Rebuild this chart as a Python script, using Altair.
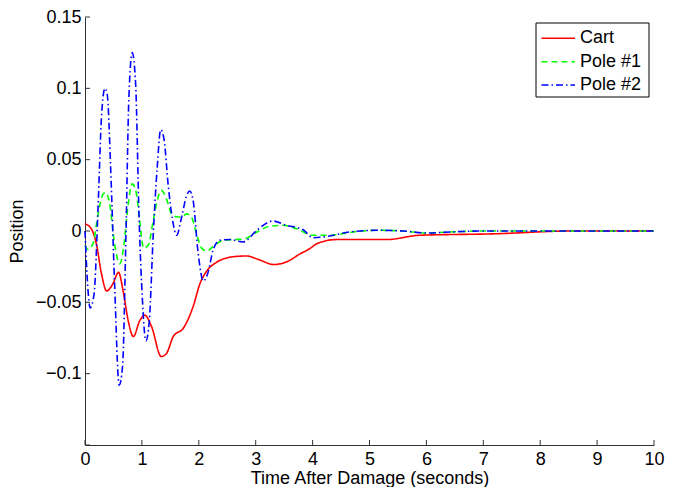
import altair as alt
import pandas as pd

series = ["Cart", "Pole #1", "Pole #2"]
colors = ["#ff0000", "#00ff00", "#0000ff"]

cart_t = [0, 0.11, 0.2, 0.29, 0.38, 0.49, 0.59, 0.67, 0.76, 0.85, 0.96, 1.05, 1.17,
          1.34, 1.43, 1.55, 1.73, 1.90, 2.02, 2.14, 2.31, 2.61, 2.84, 3.05, 3.32, 3.55,
          3.78, 3.95, 4.07, 4.42, 5.30, 5.88, 7.17, 8.57, 10]
cart_v = [0.005, 0.0016, -0.009, -0.030, -0.042, -0.037, -0.029, -0.042, -0.063, -0.074,
          -0.063, -0.059, -0.067, -0.088, -0.086, -0.074, -0.068, -0.053, -0.037, -0.028,
          -0.022, -0.018, -0.0175, -0.020, -0.0235, -0.0215, -0.016, -0.0124, -0.009, -0.006,
          -0.006, -0.003, -0.002, 0, 0]

pole1_t = [0, 0.05, 0.14, 0.23, 0.32, 0.36, 0.43, 0.52, 0.61, 0.68, 0.76, 0.83, 0.90,
           0.96, 1.03, 1.11, 1.20, 1.27, 1.34, 1.43, 1.52, 1.61, 1.70, 1.78, 1.87, 1.96,
           2.05, 2.14, 2.25, 2.40, 2.61, 2.78, 3.02, 3.25, 3.49, 3.72, 4.01, 4.30, 4.71,
           5.17, 5.59, 6.0, 6.53, 7.0, 10]
pole1_v = [-0.010, -0.013, -0.009, 0.012, 0.026, 0.027, 0.020, -0.009, -0.023, -0.011,
           0.019, 0.033, 0.027, 0.0075, -0.012, -0.010, 0.0075, 0.0215, 0.0285, 0.0227,
           0.012, 0.010, 0.0098, 0.012, 0.0098, -0.002, -0.012, -0.014, -0.011, -0.007,
           -0.006, -0.0058, -0.0007, 0.0033, 0.004, 0.0016, -0.003, -0.003, -0.0007,
           0.0005, 0, -0.0014, -0.0005, 0, 0]

pole2_t = [0, 0.05, 0.09, 0.16, 0.23, 0.29, 0.35, 0.39, 0.45, 0.52, 0.60, 0.66, 0.72,
           0.77, 0.83, 0.89, 0.95, 1.01, 1.07, 1.13, 1.20, 1.27, 1.33, 1.39, 1.46, 1.54,
           1.61, 1.70, 1.78, 1.84, 1.90, 1.99, 2.08, 2.17, 2.25, 2.37, 2.55, 2.78, 3.02,
           3.30, 3.54, 3.83, 4.01, 4.27, 4.65, 5.12, 5.59, 6.0, 6.53, 7.0, 10]
pole2_v = [0, -0.040, -0.054, -0.044, 0.017, 0.080, 0.100, 0.096, 0.045, -0.037, -0.108,
           -0.095, -0.002, 0.092, 0.125, 0.103, 0.010, -0.049, -0.077, -0.063, -0.002,
           0.045, 0.071, 0.064, 0.033, 0.0075, -0.003, 0.010, 0.024, 0.028, 0.0215,
           -0.016, -0.035, -0.028, -0.0135, -0.0065, -0.006, -0.0077, 0.0005, 0.007,
           0.004, 0.001, -0.0047, -0.0037, -0.0007, 0.0005, 0, -0.0014, -0.0005, 0, 0]

x_ticks = [0, 1, 2, 3, 4, 5, 6, 7, 8, 9, 10]
y_ticks = [-0.1, -0.05, 0, 0.05, 0.1, 0.15]

rows = []
for name, ts, vs in zip(series, [cart_t, pole1_t, pole2_t], [cart_v, pole1_v, pole2_v]):
    for i, (t, v) in enumerate(zip(ts, vs)):
        rows.append({"series": name, "t": t, "v": v, "order": i})
df = pd.DataFrame(rows)

W, H = 569, 428
FONT = "Liberation Sans"
FS = 18
x_scale = alt.Scale(domain=[0, 10], nice=False, zero=False)
y_scale = alt.Scale(domain=[-0.15, 0.15], nice=False, zero=False)
dashes = [[1, 0], [6, 4], [7, 3, 1.5, 3]]

lines = alt.Chart(df).mark_line(strokeWidth=1.6, interpolate="monotone").encode(
    x=alt.X("t:Q", scale=x_scale,
            axis=alt.Axis(values=x_ticks, title="Time After Damage (seconds)",
                          format="d", labelPadding=5, titlePadding=1.5)),
    y=alt.Y("v:Q", scale=y_scale,
            axis=alt.Axis(values=y_ticks, title="Position", format=".2~f",
                          labelPadding=4, titlePadding=8.5)),
    color=alt.Color("series:N", scale=alt.Scale(domain=series, range=colors), legend=None),
    strokeDash=alt.StrokeDash("series:N", scale=alt.Scale(domain=series, range=dashes), legend=None),
    order="order:Q",
)

xt = alt.Chart(pd.DataFrame({"t": x_ticks})).mark_rule(color="#333333", strokeWidth=1).encode(
    x=alt.X("t:Q", scale=x_scale), y=alt.value(H), y2=alt.value(H - 5))
yt = alt.Chart(pd.DataFrame({"v": y_ticks + [-0.15]})).mark_rule(color="#333333", strokeWidth=1).encode(
    y=alt.Y("v:Q", scale=y_scale), x=alt.value(0), x2=alt.value(5))

# legend
lx0, lx1, ly0, ly1 = 451, 564, 6, 80
row_y = [21.3, 44.7, 68]
box = alt.Chart(pd.DataFrame({"a": [0]})).mark_rect(
    fill="white", stroke="black", strokeWidth=1).encode(
    x=alt.value(lx0), x2=alt.value(lx1), y=alt.value(ly0), y2=alt.value(ly1))
leg_layers = [box]
for name, col, dsh, ry in zip(series, colors, dashes, row_y):
    d = pd.DataFrame({"label": [name]})
    leg_layers.append(alt.Chart(d).mark_rule(color=col, strokeWidth=1.6, strokeDash=dsh).encode(
        x=alt.value(456.5), x2=alt.value(490), y=alt.value(ry)))
    leg_layers.append(alt.Chart(d).mark_text(align="left", baseline="middle", font=FONT,
                                             fontSize=FS, color="black").encode(
        x=alt.value(495), y=alt.value(ry), text="label:N"))

chart = alt.layer(lines, xt, yt, *leg_layers).properties(
    width=W, height=H,
    autosize=alt.AutoSizeParams(type="none"),
    padding={"left": 77, "top": 9, "right": 18, "bottom": 50},
).configure_view(stroke=None).configure_axis(
    domainColor="#333333", domainWidth=1, tickSize=0, grid=False,
    labelFont=FONT, titleFont=FONT, labelFontSize=FS, titleFontSize=FS,
    labelColor="black", titleColor="black", titleFontWeight="normal",
).configure_axisX(labelFlush=False).configure_axisY(labelFlush=False)

chart.save("out.html", embed_options={"renderer": "svg", "actions": False})
